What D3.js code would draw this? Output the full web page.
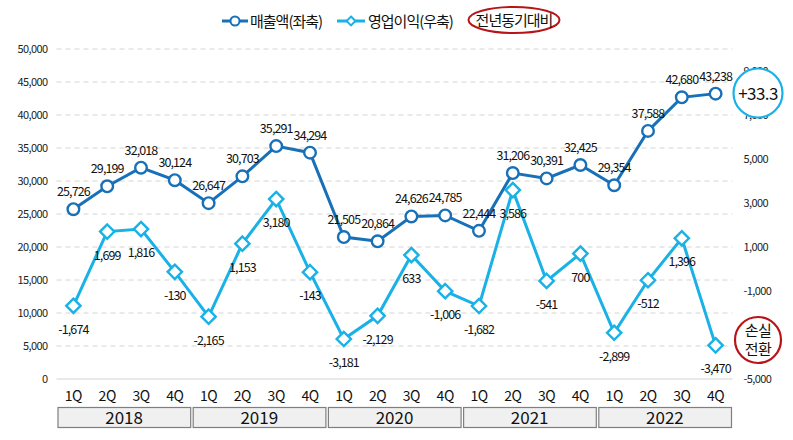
<!DOCTYPE html>
<html><head><meta charset="utf-8">
<script src="https://cdn.jsdelivr.net/npm/d3@7"></script>
<style>
body{margin:0;background:#fff;}
svg text{font-family:"Noto Sans CJK KR","Noto Sans",sans-serif;}
</style></head>
<body><svg id="c" width="793" height="440"></svg>
<script>
const years = ["2018","2019","2020","2021","2022"];
const quarters = ["1Q","2Q","3Q","4Q"];
const revenue = [25726,29199,32018,30124,26647,30703,35291,34294,21505,20864,24626,24785,22444,31206,30391,32425,29354,37588,42680,43238];
const profit = [-1674,1699,1816,-130,-2165,1153,3180,-143,-3181,-2129,633,-1006,-1682,3586,-541,700,-2899,-512,1396,-3470];
const leftTicks = [0,5000,10000,15000,20000,25000,30000,35000,40000,45000,50000];
const rightTicks = [-5000,-3000,-1000,1000,3000,5000,7000,9000];
const legendNames = ["매출액(좌축)","영업이익(우축)"];
const yoyLabel = "전년동기대비";
const growthLabel = "+33.3";
const lossLabel = ["손실","전환"];

const revColor = "#1770B8", profColor = "#19B1E6", red = "#B81418";
const svg = d3.select("#c");
const L = 56.5, R = 732.5, T = 49, B = 379;
const keys = [];
years.forEach(y => quarters.forEach(q => keys.push(y + "-" + q)));
const x = d3.scaleBand().domain(keys).range([L, R]);
const cx = i => x(keys[i]) + x.bandwidth() / 2;
const yL = d3.scaleLinear().domain([0, 50000]).range([B, T]);
const yR = d3.scaleLinear().domain([-5000, 10000]).range([B, T]);
const loc = d3.formatLocale({decimal: ".", thousands: ",", grouping: [3], currency: ["", ""], minus: "-"});
const fmt = loc.format(",");

// grid
svg.append("g").selectAll("line").data(leftTicks.filter(d => d > 0)).join("line")
  .attr("x1", L).attr("x2", R).attr("y1", d => yL(d)).attr("y2", d => yL(d))
  .attr("stroke", "#d4d4d4").attr("stroke-dasharray", "5,4").attr("stroke-width", 1);
svg.append("line").attr("x1", L).attr("x2", R).attr("y1", B).attr("y2", B)
  .attr("stroke", "#d4d4d4").attr("stroke-width", 1.2);

// left axis
const gl = svg.append("g").attr("transform", `translate(${L - 9},0)`)
  .call(d3.axisLeft(yL).tickValues(leftTicks).tickFormat(fmt).tickSize(0).tickPadding(0));
gl.select(".domain").remove();
gl.selectAll("text").attr("font-size", 11).attr("fill", "#222").attr("letter-spacing", "-0.6");

// right axis (the -3,000 label sits fully under the "손실 전환" badge in the chart)
const lossBadgeY = 340;
const gr = svg.append("g").attr("transform", `translate(${R + 11},0)`)
  .call(d3.axisRight(yR).tickValues(rightTicks.filter(d => Math.abs(yR(d) - lossBadgeY) > 12))
    .tickFormat(fmt).tickSize(0).tickPadding(0));
gr.select(".domain").remove();
gr.selectAll("text").attr("font-size", 11).attr("fill", "#222").attr("letter-spacing", "-0.6");

// x quarter labels
svg.append("g").selectAll("text").data(keys).join("text")
  .attr("x", (d, i) => cx(i)).attr("y", 401).attr("text-anchor", "middle")
  .attr("font-size", 14).attr("fill", "#111").attr("letter-spacing", "-0.5")
  .text(d => d.split("-")[1]);
// year boxes
const yg = svg.append("g").selectAll("g").data(years).join("g");
yg.append("rect")
  .attr("x", (d, i) => x(keys[i * 4]) + 1.5).attr("y", 407.5)
  .attr("width", x.bandwidth() * 4 - 2.5).attr("height", 20)
  .attr("fill", "#f0f0f0").attr("stroke", "#7f7f7f").attr("stroke-width", 1.2);
yg.append("text")
  .attr("x", (d, i) => x(keys[i * 4]) + x.bandwidth() * 2).attr("y", 424)
  .attr("text-anchor", "middle").attr("font-size", 17).attr("fill", "#111")
  .text(d => d);

// lines
const revLine = d3.line().x((d, i) => cx(i)).y(d => yL(d));
const profLine = d3.line().x((d, i) => cx(i)).y(d => yR(d));
svg.append("path").datum(revenue).attr("d", revLine).attr("fill", "none")
  .attr("stroke", revColor).attr("stroke-width", 3);
svg.append("path").datum(profit).attr("d", profLine).attr("fill", "none")
  .attr("stroke", profColor).attr("stroke-width", 3);

// markers
svg.append("g").selectAll("circle").data(revenue).join("circle")
  .attr("cx", (d, i) => cx(i)).attr("cy", d => yL(d)).attr("r", 5.8)
  .attr("fill", "#fff").attr("stroke", revColor).attr("stroke-width", 2.4);
const dia = d3.symbol().type(d3.symbolDiamond2).size(130);
svg.append("g").selectAll("path").data(profit).join("path")
  .attr("transform", (d, i) => `translate(${cx(i)},${yR(d)})`)
  .attr("d", dia).attr("fill", "#fff").attr("stroke", profColor).attr("stroke-width", 2.4);

// value labels
svg.append("g").selectAll("text").data(revenue).join("text")
  .attr("x", (d, i) => cx(i)).attr("y", d => yL(d) - 13)
  .attr("text-anchor", "middle").attr("font-size", 12.5).attr("fill", "#111")
  .attr("letter-spacing", "-0.9").text(fmt);
svg.append("g").selectAll("text").data(profit).join("text")
  .attr("x", (d, i) => cx(i)).attr("y", d => yR(d) + 28)
  .attr("text-anchor", "middle").attr("font-size", 12.5).attr("fill", "#111")
  .attr("letter-spacing", "-0.9").text(fmt);

// legend
const lg = svg.append("g");
lg.append("line").attr("x1", 222).attr("x2", 248).attr("y1", 21).attr("y2", 21)
  .attr("stroke", revColor).attr("stroke-width", 3);
lg.append("circle").attr("cx", 235).attr("cy", 21).attr("r", 4.5)
  .attr("fill", "#fff").attr("stroke", revColor).attr("stroke-width", 2);
lg.append("text").attr("x", 250).attr("y", 26.5).attr("font-size", 15).attr("letter-spacing", "-1")
  .attr("fill", "#111").text(legendNames[0]);
lg.append("line").attr("x1", 337).attr("x2", 365).attr("y1", 21).attr("y2", 21)
  .attr("stroke", profColor).attr("stroke-width", 3);
lg.append("path").attr("transform", "translate(351,21)")
  .attr("d", d3.symbol().type(d3.symbolDiamond2).size(50))
  .attr("fill", "#fff").attr("stroke", profColor).attr("stroke-width", 2);
lg.append("text").attr("x", 368).attr("y", 26.5).attr("font-size", 15).attr("letter-spacing", "-1")
  .attr("fill", "#111").text(legendNames[1]);
lg.append("ellipse").attr("cx", 514).attr("cy", 20).attr("rx", 45.5).attr("ry", 13)
  .attr("fill", "none").attr("stroke", red).attr("stroke-width", 2);
lg.append("text").attr("x", 514).attr("y", 26).attr("text-anchor", "middle")
  .attr("font-size", 15).attr("letter-spacing", "-1").attr("fill", "#111").text(yoyLabel);

// annotations
svg.append("circle").attr("cx", 758).attr("cy", 93).attr("r", 24.5)
  .attr("fill", "#fff").attr("stroke", profColor).attr("stroke-width", 2.2);
svg.append("text").attr("x", 758).attr("y", 99.5).attr("text-anchor", "middle")
  .attr("font-size", 17).attr("letter-spacing", "-0.6").attr("fill", "#111").text(growthLabel);
svg.append("circle").attr("cx", 758).attr("cy", lossBadgeY).attr("r", 23)
  .attr("fill", "#fff").attr("stroke", red).attr("stroke-width", 2.2);
svg.append("g").selectAll("text").data(lossLabel).join("text")
  .attr("x", 758).attr("y", (d, i) => lossBadgeY - 4 + i * 19).attr("text-anchor", "middle")
  .attr("font-size", 15).attr("letter-spacing", "-0.6").attr("fill", "#111").text(d => d);
</script></body></html>
